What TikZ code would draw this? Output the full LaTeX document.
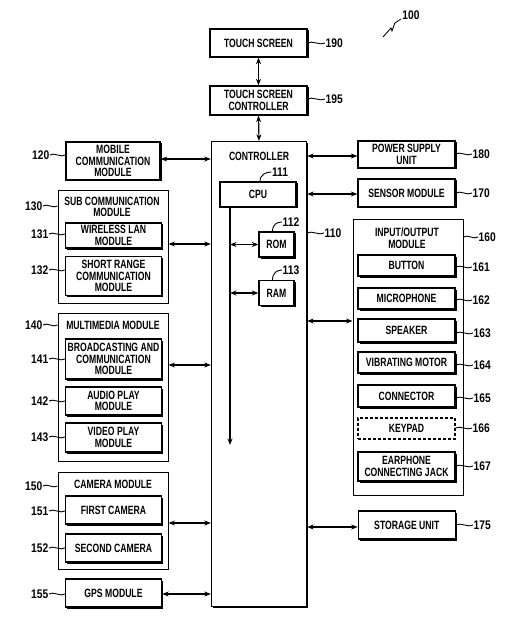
\documentclass[tikz,border=0pt]{standalone}
\usepackage{fontspec}
\setmainfont{Liberation Sans}[FakeStretch=0.72]
\newfontfamily\numfont{Liberation Sans}[FakeStretch=0.82]
\usetikzlibrary{arrows.meta,shadows}
\tikzset{
 txt/.style={font=\fontsize{12}{11.5}\selectfont\bfseries, align=center, inner sep=0pt},
 box/.style={txt, draw, line width=1.3pt, fill=white, general shadow={fill=black, shadow xshift=1.5pt, shadow yshift=-1.5pt}},
 grp/.style={draw, line width=1pt, inner sep=0pt},
 dbox/.style={txt, draw, line width=1.1pt, dash pattern=on 3pt off 2pt},
 num/.style={font=\numfont\fontsize{12.5}{12}\selectfont\bfseries, inner sep=0.5pt},
 arr/.style={line width=1.2pt, {Stealth[length=6.5pt,width=5pt]}-{Stealth[length=6.5pt,width=5pt]}},
 onearr/.style={line width=1.2pt, -{Stealth[length=6.5pt,width=5pt]}},
 lead/.style={line width=0.9pt},
}
\newcommand{\tildeR}[2]{\draw[lead] (#1) .. controls +(4pt,3pt) and +(-4pt,-3pt) .. (#2);}
\begin{document}
\begin{tikzpicture}[x=1pt,y=-1pt]
\useasboundingbox (0,0) rectangle (515,617);
% ---- top
\node[box, minimum width=97pt, minimum height=28pt] (ts) at (258.5,43) {TOUCH SCREEN};
\node[box, minimum width=97pt, minimum height=29pt] (tsc) at (258.5,100.5) {TOUCH SCREEN\\CONTROLLER};
% ---- controller
\node[box, minimum width=95pt, minimum height=465pt] (ctrl) at (259,374) {};
\node[txt] (ctrlt) at (259,156) {CONTROLLER};
\node[box, minimum width=76pt, minimum height=25pt] (cpu) at (258,194.5) {CPU};
\node[box, minimum width=35pt, minimum height=25pt] (rom) at (276.5,244.5) {ROM};
\node[box, minimum width=35pt, minimum height=25pt] (ram) at (276.5,293) {RAM};
\coordinate (busend) at (230,445);
% ---- left column
\node[box, minimum width=94pt, minimum height=38pt] (mob) at (113,161) {MOBILE\\COMMUNICATION\\MODULE};
\node[grp, minimum width=110pt, minimum height=112pt] (sub) at (113,247) {};
\node[txt] (subt) at (112,207) {SUB COMMUNICATION\\MODULE};
\node[box, minimum width=96pt, minimum height=25pt] (wlan) at (113.5,235.5) {WIRELESS LAN\\MODULE};
\node[box, minimum width=96pt, minimum height=39pt] (srange) at (113.5,276) {SHORT RANGE\\COMMUNICATION\\MODULE};
\node[grp, minimum width=110pt, minimum height=148pt] (mm) at (113,387) {};
\node[txt] (mmt) at (113,325) {MULTIMEDIA MODULE};
\node[box, minimum width=96pt, minimum height=40pt] (bcast) at (113.5,359) {BROADCASTING AND\\COMMUNICATION\\MODULE};
\node[box, minimum width=96pt, minimum height=28pt] (audio) at (113.5,401) {AUDIO PLAY\\MODULE};
\node[box, minimum width=96pt, minimum height=29pt] (video) at (113.5,437.5) {VIDEO PLAY\\MODULE};
\node[grp, minimum width=110pt, minimum height=97pt] (cam) at (113,520.5) {};
\node[txt] (camt) at (113,484) {CAMERA MODULE};
\node[box, minimum width=96pt, minimum height=28pt] (first) at (113.5,510) {FIRST CAMERA};
\node[box, minimum width=96pt, minimum height=28pt] (second) at (113.5,548) {SECOND CAMERA};
\node[box, minimum width=96pt, minimum height=28pt] (gps) at (113.5,593) {GPS MODULE};
% ---- right column
\node[box, minimum width=97pt, minimum height=27pt] (psu) at (406.5,154.5) {POWER SUPPLY\\UNIT};
\node[box, minimum width=97pt, minimum height=28pt] (sensor) at (406.5,193) {SENSOR MODULE};
\node[grp, minimum width=110pt, minimum height=275pt] (io) at (408,357.5) {};
\node[txt] (iot) at (407,238) {INPUT/OUTPUT\\MODULE};
\node[box, minimum width=97pt, minimum height=21pt] (button) at (406.5,265.5) {BUTTON};
\node[box, minimum width=97pt, minimum height=21pt] (mic) at (406.5,298.5) {MICROPHONE};
\node[box, minimum width=97pt, minimum height=23pt] (speaker) at (406.5,330.5) {SPEAKER};
\node[box, minimum width=97pt, minimum height=21pt] (vib) at (406.5,362.5) {VIBRATING MOTOR};
\node[box, minimum width=97pt, minimum height=22pt] (conn) at (406.5,396) {CONNECTOR};
\node[dbox, minimum width=97pt, minimum height=21pt] (keypad) at (406.5,428.5) {KEYPAD};
\node[box, minimum width=97pt, minimum height=29pt] (ear) at (406.5,466.5) {EARPHONE\\CONNECTING JACK};
\node[box, minimum width=97pt, minimum height=28pt] (storage) at (406.8,525) {STORAGE UNIT};
% ---- connectors
\draw[arr] (ts.south) -- (tsc.north);
\draw[arr] (tsc.south) -- (ctrl.north);
\draw[arr] ([yshift=2pt]mob.east) -- ([yshift=2pt]mob.east -| ctrl.west);
\draw[arr] ([yshift=3pt]sub.east) -- ([yshift=3pt]sub.east -| ctrl.west);
\draw[arr] ([yshift=22pt]mm.east) -- ([yshift=22pt]mm.east -| ctrl.west);
\draw[arr] ([yshift=-2.5pt]cam.east) -- ([yshift=-2.5pt]cam.east -| ctrl.west);
\draw[arr] ([yshift=-1pt]gps.east) -- ([yshift=-1pt]gps.east -| ctrl.west);
\draw[arr] ([yshift=-1.5pt]psu.west -| ctrl.east) -- ([yshift=-1.5pt]psu.west);
\draw[arr] ([yshift=-1pt]sensor.west -| ctrl.east) -- ([yshift=-1pt]sensor.west);
\draw[arr] ([yshift=36.5pt]io.west -| ctrl.east) -- ([yshift=36.5pt]io.west);
\draw[arr] ([yshift=-2pt]storage.west -| ctrl.east) -- ([yshift=-2pt]storage.west);
\draw[onearr] ([xshift=-28pt]cpu.south) -- (busend);
\draw[arr] (rom.west -| busend) -- (rom.west);
\draw[arr] (ram.west -| busend) -- (ram.west);
% ---- reference numerals
\node[num, anchor=west] (n190) at (325,43) {190};
\node[num, anchor=west] (n195) at (325,99) {195};
\node[num] (n100) at (411,15) {100};
\node[num, anchor=west] (n110) at (324,233) {110};
\node[num] (n111) at (280,172) {111};
\node[num] (n112) at (291,222) {112};
\node[num] (n113) at (291,270) {113};
\node[num, anchor=east] (n120) at (50,155) {120};
\node[num, anchor=east] (n130) at (43,206) {130};
\node[num, anchor=east] (n131) at (49,234) {131};
\node[num, anchor=east] (n132) at (49,270) {132};
\node[num, anchor=east] (n140) at (43,325) {140};
\node[num, anchor=east] (n141) at (49,359) {141};
\node[num, anchor=east] (n142) at (49,401) {142};
\node[num, anchor=east] (n143) at (49,437) {143};
\node[num, anchor=east] (n150) at (43,486) {150};
\node[num, anchor=east] (n151) at (49,511) {151};
\node[num, anchor=east] (n152) at (49,548) {152};
\node[num, anchor=east] (n155) at (49,594) {155};
\node[num, anchor=west] (n180) at (472,154) {180};
\node[num, anchor=west] (n170) at (472,193) {170};
\node[num, anchor=west] (n160) at (478,237) {160};
\node[num, anchor=west] (n161) at (472,267) {161};
\node[num, anchor=west] (n162) at (472,300) {162};
\node[num, anchor=west] (n163) at (473,333) {163};
\node[num, anchor=west] (n164) at (473,365) {164};
\node[num, anchor=west] (n165) at (473,398) {165};
\node[num, anchor=west] (n166) at (472,428) {166};
\node[num, anchor=west] (n167) at (473,466) {167};
\node[num, anchor=west] (n175) at (473,525) {175};
% ---- leaders
\tildeR{ts.east |- n190.west}{n190.west}
\tildeR{tsc.east |- n195.west}{n195.west}
\tildeR{ctrl.east |- n110.west}{n110.west}
\draw[lead] ([xshift=2pt]cpu.north) .. controls +(0pt,7pt) and +(-5pt,0pt) .. (n111.west);
\draw[lead] ([xshift=-4pt]rom.north) .. controls +(0pt,7pt) and +(-5pt,0pt) .. (n112.west);
\draw[lead] ([xshift=-4pt]ram.north) .. controls +(0pt,7pt) and +(-5pt,0pt) .. (n113.west);
\tildeR{n120.east}{mob.west |- n120.east}
\tildeR{n130.east}{sub.west |- n130.east}
\tildeR{n131.east}{wlan.west |- n131.east}
\tildeR{n132.east}{srange.west |- n132.east}
\tildeR{n140.east}{mm.west |- n140.east}
\tildeR{n141.east}{bcast.west |- n141.east}
\tildeR{n142.east}{audio.west |- n142.east}
\tildeR{n143.east}{video.west |- n143.east}
\tildeR{n150.east}{cam.west |- n150.east}
\tildeR{n151.east}{first.west |- n151.east}
\tildeR{n152.east}{second.west |- n152.east}
\tildeR{n155.east}{gps.west |- n155.east}
\tildeR{psu.east |- n180.west}{n180.west}
\tildeR{sensor.east |- n170.west}{n170.west}
\tildeR{io.east |- n160.west}{n160.west}
\tildeR{button.east |- n161.west}{n161.west}
\tildeR{mic.east |- n162.west}{n162.west}
\tildeR{speaker.east |- n163.west}{n163.west}
\tildeR{vib.east |- n164.west}{n164.west}
\tildeR{conn.east |- n165.west}{n165.west}
\tildeR{keypad.east |- n166.west}{n166.west}
\tildeR{ear.east |- n167.west}{n167.west}
\tildeR{storage.east |- n175.west}{n175.west}
% ---- overall reference mark
\coordinate (z0) at (383,37);
\draw[lead] (z0) -- ++(8,-9) -- ++(1,3) -- ([xshift=-7pt,yshift=-3pt]n100.south west) -- ([xshift=-1pt,yshift=1pt]n100.south west);
\end{tikzpicture}
\end{document}
